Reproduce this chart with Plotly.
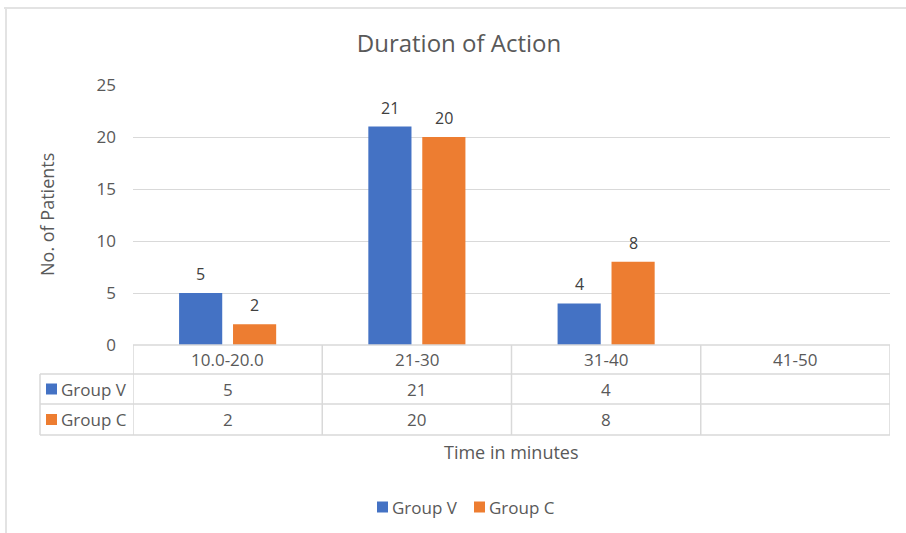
import plotly.graph_objects as go

# Chart data
categories = ["10.0-20.0", "21-30", "31-40", "41-50"]
series_names = ["Group V", "Group C"]
group_v = [5, 21, 4, None]
group_c = [2, 20, 8, None]
series_colors = ["#4472C4", "#ED7D31"]
y_ticks = [0, 5, 10, 15, 20, 25]

W, H = 906, 533
L, R, T, B = 133, 890, 85, 345  # plot area in pixels

FONT = "Open Sans"
TXT = "#595959"
LINE = "#d9d9d9"

BARGAP, BARGROUPGAP = 0.43, 0.2


def px_x(p):
    return (p - L) / (R - L)


def px_y(p):
    return (B - p) / (B - T)


fig = go.Figure()
for name, vals, col in zip(series_names, [group_v, group_c], series_colors):
    fig.add_trace(go.Bar(
        x=list(range(len(categories))), y=vals, name=name,
        marker=dict(color=col, line=dict(width=0)),
    ))

shapes = []
annotations = []

# value labels above each bar (bar centres follow the grouped-bar layout)
slot = (1 - BARGAP) / len(series_names)
for s, vals in enumerate([group_v, group_c]):
    off = (s - (len(series_names) - 1) / 2) * slot
    for i, v in enumerate(vals):
        if v is not None:
            annotations.append(dict(x=i + off, y=v, xref="x", yref="y",
                                    text=str(v), showarrow=False,
                                    xanchor="center", yanchor="middle", yshift=19,
                                    font=dict(family=FONT, size=16, color="#404040")))

# data table under the plot
row_tops = [345, 374, 404, 435]
shapes.append(dict(type="line", xref="paper", yref="paper",
                   x0=px_x(L), x1=px_x(R), y0=px_y(345), y1=px_y(345),
                   line=dict(color=LINE, width=1.5)))
for yy in row_tops[1:]:
    shapes.append(dict(type="line", xref="paper", yref="paper",
                       x0=px_x(40), x1=px_x(R), y0=px_y(yy), y1=px_y(yy),
                       line=dict(color=LINE, width=1.5)))
for i in range(len(categories) + 1):
    shapes.append(dict(type="line", xref="x", yref="paper",
                       x0=i - 0.5, x1=i - 0.5, y0=px_y(345), y1=px_y(435),
                       line=dict(color=LINE, width=1.5)))
shapes.append(dict(type="line", xref="paper", yref="paper",
                   x0=px_x(40), x1=px_x(40), y0=px_y(374), y1=px_y(435),
                   line=dict(color=LINE, width=1.5)))

# header row
for i, c in enumerate(categories):
    annotations.append(dict(x=i, y=px_y(359.5), xref="x", yref="paper",
                            text=c, showarrow=False, xanchor="center", yanchor="middle",
                            font=dict(family=FONT, size=17, color=TXT)))
# series rows
for r, (name, vals, col) in enumerate(zip(series_names, [group_v, group_c], series_colors)):
    yc = (row_tops[r + 1] + row_tops[r + 2]) / 2
    shapes.append(dict(type="rect", xref="paper", yref="paper",
                       x0=px_x(46), x1=px_x(57), y0=px_y(yc - 5.5), y1=px_y(yc + 5.5),
                       fillcolor=col, line=dict(width=0)))
    annotations.append(dict(x=px_x(59), y=px_y(yc), xref="paper", yref="paper",
                            text=name, showarrow=False, xanchor="left", yanchor="middle",
                            font=dict(family=FONT, size=17, color=TXT)))
    for i, v in enumerate(vals):
        if v is not None:
            annotations.append(dict(x=i, y=px_y(yc), xref="x", yref="paper",
                                    text=str(v), showarrow=False,
                                    xanchor="center", yanchor="middle",
                                    font=dict(family=FONT, size=17, color=TXT)))

# legend below the table
legend_x = [377, 474]
for name, col, lx in zip(series_names, series_colors, legend_x):
    shapes.append(dict(type="rect", xref="paper", yref="paper",
                       x0=px_x(lx), x1=px_x(lx + 11), y0=px_y(501.5), y1=px_y(512.5),
                       fillcolor=col, line=dict(width=0)))
    annotations.append(dict(x=px_x(lx + 13), y=px_y(507), xref="paper", yref="paper",
                            text=name, showarrow=False, xanchor="left", yanchor="middle",
                            font=dict(family=FONT, size=17, color=TXT)))

# axis titles
annotations.append(dict(x=px_x(47), y=px_y(215), xref="paper", yref="paper",
                        text="No. of Patients", textangle=-90, showarrow=False,
                        xanchor="center", yanchor="middle",
                        font=dict(family=FONT, size=18, color=TXT)))
annotations.append(dict(x=px_x(511), y=px_y(452), xref="paper", yref="paper",
                        text="Time in minutes", showarrow=False,
                        xanchor="center", yanchor="middle",
                        font=dict(family=FONT, size=18, color=TXT)))

# outer chart frame (top and left edges)
shapes.append(dict(type="line", xref="paper", yref="paper",
                   x0=px_x(4), x1=px_x(W), y0=px_y(8), y1=px_y(8),
                   line=dict(color="#e3e3e3", width=2)))
shapes.append(dict(type="line", xref="paper", yref="paper",
                   x0=px_x(6), x1=px_x(6), y0=px_y(8), y1=px_y(H),
                   line=dict(color="#e3e3e3", width=2)))

fig.update_layout(
    width=W, height=H,
    margin=dict(l=L, r=W - R, t=T, b=H - B, pad=0),
    paper_bgcolor="white", plot_bgcolor="white",
    barmode="group", bargap=BARGAP, bargroupgap=BARGROUPGAP,
    title=dict(text="Duration of Action", x=459 / W, xref="container", xanchor="center",
               y=1 - 44 / H, yref="container", yanchor="middle",
               font=dict(family=FONT, size=24, color=TXT)),
    xaxis=dict(range=[-0.5, len(categories) - 0.5], showticklabels=False,
               showgrid=False, zeroline=False, showline=False),
    yaxis=dict(range=[0, 25], tickvals=y_ticks, showgrid=True, gridcolor=LINE,
               gridwidth=1.2, zeroline=False, showline=False,
               ticklabelstandoff=16,
               tickfont=dict(family=FONT, size=17, color=TXT)),
    showlegend=False,
    shapes=shapes, annotations=annotations,
)

fig.write_html("out.html")
